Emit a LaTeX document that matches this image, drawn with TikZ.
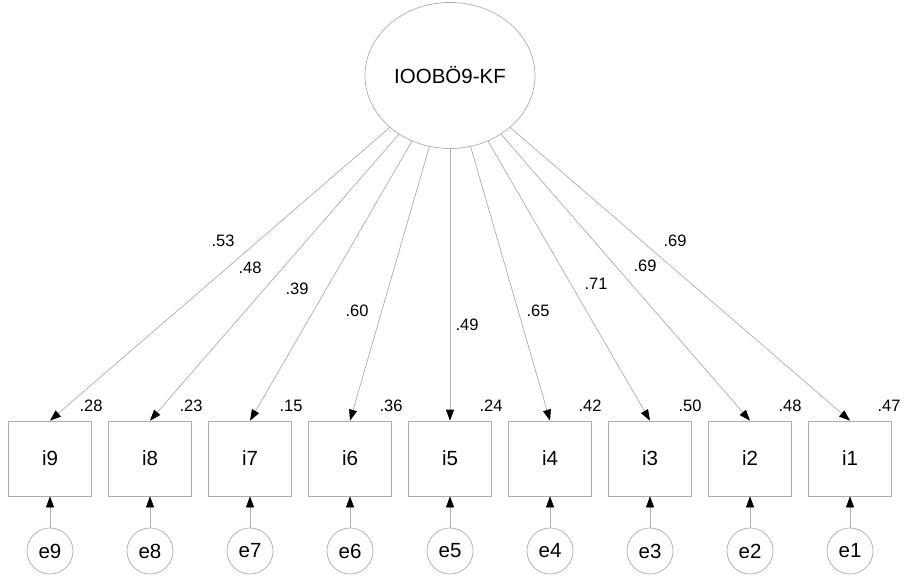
\documentclass[tikz,border=0pt]{standalone}
\usepackage{fontspec}
\setmainfont{Liberation Sans}
\usetikzlibrary{shapes.geometric,arrows.meta}
\definecolor{linegray}{gray}{0.68}
\tikzset{
  latent/.style={ellipse,draw=linegray,line width=0.7pt,minimum width=170pt,minimum height=146pt,inner sep=0pt,font=\fontsize{20.5}{24}\selectfont},
  obsbox/.style={rectangle,draw=linegray,line width=0.7pt,minimum width=83pt,minimum height=75pt,inner sep=0pt,font=\fontsize{20.5}{24}\selectfont},
  errc/.style={circle,draw=linegray,line width=0.7pt,minimum size=46pt,inner sep=0pt,font=\fontsize{20.5}{24}\selectfont},
  path/.style={draw=linegray,line width=0.7pt,-{Triangle[length=11pt,width=8pt,color=black]}},
  coef/.style={font=\fontsize{16.5}{19}\selectfont,inner sep=0pt}
}
\begin{document}
\begin{tikzpicture}[x=1pt,y=-1pt]
\useasboundingbox (0,0) rectangle (904,577);
\node[latent] (F) at (450,75.5) {IOOBÖ9-KF};
\foreach \k/\x in {9/50,8/150,7/250,6/350,5/450,4/550,3/650,2/750,1/850}{
  \node[obsbox] (i\k) at (\x,458.5) {i\k};
  \node[errc] (e\k) at (\x,551) {e\k};
  \draw[path] (e\k) -- (i\k);
  \draw[path] (F) -- (i\k.north);
}
\node[coef] (r9) at (91,406) {.28};
\node[coef] (r8) at (191,406) {.23};
\node[coef] (r7) at (291,406) {.15};
\node[coef] (r6) at (391,406) {.36};
\node[coef] (r5) at (491,406) {.24};
\node[coef] (r4) at (590,406) {.42};
\node[coef] (r3) at (690,406) {.50};
\node[coef] (r2) at (790,406) {.48};
\node[coef] (r1) at (889,406) {.47};
\node[coef] (l9) at (223,241) {.53};
\node[coef] (l8) at (250,268) {.48};
\node[coef] (l7) at (297,289) {.39};
\node[coef] (l6) at (357,311) {.60};
\node[coef] (l5) at (467,325) {.49};
\node[coef] (l4) at (538,311) {.65};
\node[coef] (l3) at (596,284) {.71};
\node[coef] (l2) at (645,266) {.69};
\node[coef] (l1) at (675,241) {.69};
\end{tikzpicture}
\end{document}
